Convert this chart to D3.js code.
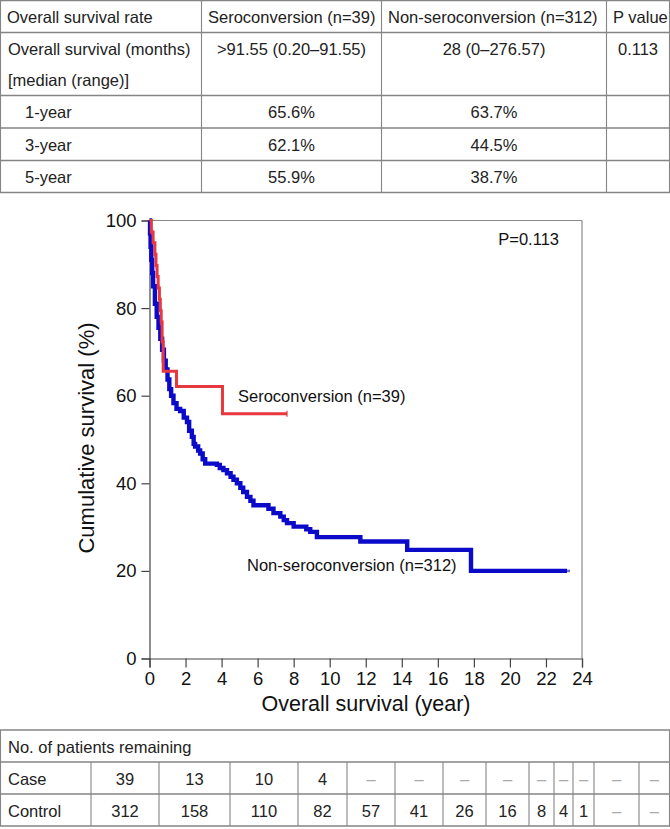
<!DOCTYPE html>
<html><head><meta charset="utf-8">
<script src="https://cdn.jsdelivr.net/npm/d3@7"></script>
<style>
html,body{margin:0;padding:0;background:#fff;}
svg{display:block;font-family:"Liberation Sans",Arial,Helvetica,sans-serif;}
</style></head>
<body>
<svg id="chart" width="670" height="829"></svg>
<script>
// ---------- data ----------
const summaryHeader = ["Overall survival rate", "Seroconversion (n=39)", "Non-seroconversion (n=312)", "P value"];
const summaryLabels = [["Overall survival (months)", "[median (range)]"], ["1-year"], ["3-year"], ["5-year"]];
const seroSummary = [">91.55 (0.20\u201391.55)", "65.6%", "62.1%", "55.9%"];
const nonSummary = ["28 (0\u2013276.57)", "63.7%", "44.5%", "38.7%"];
const pSummary = ["0.113", "", "", ""];

const xTicks = [0, 2, 4, 6, 8, 10, 12, 14, 16, 18, 20, 22, 24];
const yTicks = [0, 20, 40, 60, 80, 100];

// Seroconversion (red) KM step curve: time (years), survival (%)
const seroTime = [0, 0.1, 0.2, 0.3, 0.36, 0.42, 0.48, 0.55, 0.6, 0.65, 0.7, 0.76, 1.5, 4.05, 7.63];
const seroSurv = [100, 97.4, 94.9, 92.3, 89.7, 87.2, 84.6, 82.0, 79.4, 76.8, 72.3, 65.6, 62.1, 55.9, 55.9];
const seroCensor = [0.12, 0.3, 0.38, 0.52, 0.62, 0.72, 7.63];

// Non-seroconversion (blue) KM step curve
const nonTime = [0, 0.03, 0.06, 0.1, 0.15, 0.2, 0.3, 0.4, 0.5, 0.6, 0.7, 0.8, 0.9, 1.0, 1.1, 1.2, 1.33, 1.5, 1.7, 1.9, 2.08, 2.2, 2.35, 2.45, 2.53, 2.7, 2.81, 2.95, 3.09, 3.74, 3.9, 4.1, 4.3, 4.5, 4.66, 4.85, 5.04, 5.2, 5.41, 5.6, 5.77, 6.6, 6.88, 7.26, 7.45, 7.63, 8.0, 8.7, 8.92, 9.29, 11.7, 14.3, 17.84, 23.17];
const nonSurv = [100, 97, 94, 91, 88, 85, 81, 78, 75.5, 73, 70.5, 68, 66, 63.7, 61.5, 60, 58.3, 57, 56.5, 55, 54, 52, 50.6, 49, 48.4, 47.5, 46.8, 45.5, 44.5, 44.2, 43.5, 43.0, 42.3, 41.5, 40.8, 40, 39.0, 38, 36.9, 36, 35.0, 34.2, 33.2, 32.4, 31.6, 30.9, 30.1, 29.5, 28.9, 27.7, 26.7, 24.8, 20.0, 20.0];
const nonCensor = [23.17];

const riskLabels = ["Case", "Control"];
const riskCase = ["39", "13", "10", "4", "\u2013", "\u2013", "\u2013", "\u2013", "\u2013", "\u2013", "\u2013", "\u2013", "\u2013"];
const riskControl = ["312", "158", "110", "82", "57", "41", "26", "16", "8", "4", "1", "\u2013", "\u2013"];

// ---------- drawing ----------
const svg = d3.select("#chart");
const font = 16.5;
const lineCol = "#858585";

// Top summary table
const tCols = [0.5, 201.5, 381.5, 606.5, 669.5];
const tRows = [0.5, 32.5, 95.5, 128, 160.5, 192.5];
const topTable = svg.append("g");
tRows.forEach(yy => topTable.append("line").attr("x1", 0).attr("x2", 670).attr("y1", yy).attr("y2", yy)
  .attr("stroke", lineCol).attr("stroke-width", 1.3));
tCols.forEach(xx => topTable.append("line").attr("x1", xx).attr("x2", xx).attr("y1", 0).attr("y2", 192.5)
  .attr("stroke", lineCol).attr("stroke-width", 1.1));
summaryHeader.forEach((h, i) => topTable.append("text").attr("x", tCols[i] + 6.5).attr("y", 22.5)
  .attr("font-size", font).attr("fill", "#222").text(h));
summaryLabels.forEach((lab, r) => {
  lab.forEach((t, k) => topTable.append("text")
    .attr("x", r === 0 ? 8 : 25).attr("y", tRows[r + 1] + 22.5 + k * 31)
    .attr("font-size", font).attr("fill", "#222").text(t));
  [seroSummary[r], nonSummary[r], pSummary[r]].forEach((v, c) => topTable.append("text")
    .attr("x", (tCols[c + 1] + tCols[c + 2]) / 2).attr("y", tRows[r + 1] + 22.5)
    .attr("text-anchor", "middle").attr("font-size", font).attr("fill", "#222").text(v));
});

// Chart
const x = d3.scaleLinear().domain([0, 24]).range([149.5, 582]);
const y = d3.scaleLinear().domain([0, 100]).range([658.5, 220.5]);
const g = svg.append("g");

g.append("line").attr("x1", x(0)).attr("x2", x(24)).attr("y1", y(100)).attr("y2", y(100)).attr("stroke", "#8a8a8a").attr("stroke-width", 1.2);
g.append("line").attr("x1", x(24)).attr("x2", x(24)).attr("y1", y(100)).attr("y2", y(0)).attr("stroke", "#8a8a8a").attr("stroke-width", 1.2);

const xAxis = g.append("g").attr("transform", `translate(0,${y(0)})`)
  .call(d3.axisBottom(x).tickValues(xTicks).tickSizeOuter(0).tickSize(9).tickPadding(4));
const yAxis = g.append("g").attr("transform", `translate(${x(0)},0)`)
  .call(d3.axisLeft(y).tickValues(yTicks).tickSizeOuter(0).tickSize(8).tickPadding(5));
[xAxis, yAxis].forEach(a => {
  a.selectAll("path,line").attr("stroke", "#444").attr("stroke-width", 1.2);
  a.selectAll("text").attr("font-size", 18.5).attr("fill", "#111").attr("font-family", "Liberation Sans,Arial,sans-serif");
});
xAxis.selectAll("text").attr("dy", "0.71em");

g.append("text").attr("x", 366).attr("y", 711).attr("text-anchor", "middle").attr("font-size", 21.5).attr("fill", "#111").text("Overall survival (year)");
g.append("text").attr("transform", "translate(94,438) rotate(-90)").attr("text-anchor", "middle").attr("font-size", 22).attr("fill", "#111").text("Cumulative survival (%)");

g.append("text").attr("x", 559).attr("y", 245).attr("text-anchor", "end").attr("font-size", 16.5).attr("fill", "#111").text("P=0.113");

const line = d3.line().x(d => x(d[0])).y(d => y(d[1])).curve(d3.curveStepAfter);
const nonData = nonTime.map((t, i) => [t, nonSurv[i]]);
const seroData = seroTime.map((t, i) => [t, seroSurv[i]]);

g.append("path").datum(nonData).attr("d", line).attr("fill", "none").attr("stroke", "#0a0ac8").attr("stroke-width", 4.4);
g.append("path").datum(seroData).attr("d", line).attr("fill", "none").attr("stroke", "#e8383f").attr("stroke-width", 3);

function survAt(times, survs, t) {
  let s = survs[0];
  for (let i = 0; i < times.length; i++) if (times[i] <= t) s = survs[i];
  return s;
}
seroCensor.forEach(t => {
  const s = survAt(seroTime, seroSurv, t);
  g.append("line").attr("x1", x(t)).attr("x2", x(t)).attr("y1", y(s) - 3).attr("y2", y(s) + 3)
    .attr("stroke", "#e8383f").attr("stroke-width", 1.5).attr("opacity", 0.8);
});
nonCensor.forEach(t => {
  const s = survAt(nonTime, nonSurv, t);
  g.append("line").attr("x1", x(t)).attr("x2", x(t) + 3).attr("y1", y(s)).attr("y2", y(s))
    .attr("stroke", "#6a6ae0").attr("stroke-width", 2.5);
});

g.append("text").attr("x", 238).attr("y", 402).attr("font-size", 16.5).attr("fill", "#111").text("Seroconversion (n=39)");
g.append("text").attr("x", 247).attr("y", 571).attr("font-size", 16.5).attr("fill", "#111").text("Non-seroconversion (n=312)");

// Bottom table
const bCols = [0.5, 91, 159, 230, 298, 347, 395, 443, 486, 529, 554, 573, 594, 639, 669.5];
const bRows = [730, 762, 794, 826];
const botTable = svg.append("g");
bRows.forEach(yy => botTable.append("line").attr("x1", 0).attr("x2", 670).attr("y1", yy).attr("y2", yy)
  .attr("stroke", lineCol).attr("stroke-width", 1.3));
[0.5, 669.5].forEach(xx => botTable.append("line").attr("x1", xx).attr("x2", xx).attr("y1", bRows[0]).attr("y2", bRows[3])
  .attr("stroke", lineCol).attr("stroke-width", 1.1));
bCols.slice(1, -1).forEach(xx => botTable.append("line").attr("x1", xx).attr("x2", xx).attr("y1", bRows[1]).attr("y2", bRows[3])
  .attr("stroke", lineCol).attr("stroke-width", 1.1));
botTable.append("text").attr("x", 8).attr("y", 753).attr("font-size", font).attr("fill", "#222").text("No. of patients remaining");
[riskCase, riskControl].forEach((row, r) => {
  botTable.append("text").attr("x", 8).attr("y", bRows[r + 1] + 23).attr("font-size", font).attr("fill", "#222").text(riskLabels[r]);
  row.forEach((v, c) => botTable.append("text").attr("x", (bCols[c + 1] + bCols[c + 2]) / 2).attr("y", bRows[r + 1] + 23)
    .attr("text-anchor", "middle").attr("font-size", font).attr("fill", v === "\u2013" ? "#aaa" : "#222").text(v));
});
</script>
</body></html>
